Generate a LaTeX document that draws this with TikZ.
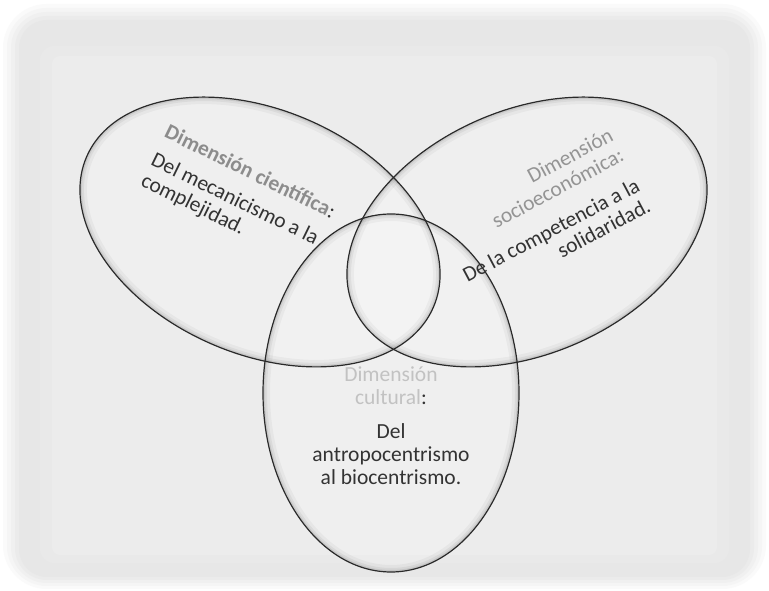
\documentclass[tikz,border=0pt]{standalone}
\usepackage{fontspec}
\setmainfont{Carlito}
\definecolor{txt}{HTML}{333333}
\definecolor{edge}{HTML}{2A2A2A}
\begin{document}
\begin{tikzpicture}[x=1pt,y=1pt,
  ring/.style={draw=edge, line width=1.2pt},
  body/.style={font=\fontsize{21.5}{23}\selectfont, text=txt, inner sep=0pt}]
\useasboundingbox (0,0) rectangle (769,591);
\fill[white] (0,0) rectangle (769,591);
% panel with soft edge
\fill[black!2, rounded corners=44] (3,2) rectangle (766,587);
\fill[black!4, rounded corners=40] (7,5) rectangle (762,583);
\fill[black!6, rounded corners=36] (11,8) rectangle (758,579);
\fill[black!8, rounded corners=32] (15,11) rectangle (754,575);
\fill[black!9.5, rounded corners=28] (19,14) rectangle (750,571);
\fill[black!8.5, rounded corners=14] (40,28) rectangle (729,545);
\fill[black!7.5, rounded corners=8] (52,36) rectangle (717,535);
% ellipse bodies and inner shading
\foreach \cx/\cy/\rx/\ry/\r in {260/359/189/122/-23.5, 527/359/189/122/23.5, 391/198/128/179/0}{
  \fill[white, opacity=0.18] (\cx,\cy) circle [x radius=\rx, y radius=\ry, rotate=\r];
}
\foreach \cx/\cy/\rx/\ry/\r in {260/359/189/122/-23.5, 527/359/189/122/23.5, 391/198/128/179/0}{
  \begin{scope}
    \clip (\cx,\cy) circle [x radius=\rx, y radius=\ry, rotate=\r];
    \draw[black, line width=14pt, opacity=0.035] (\cx,\cy) circle [x radius=\rx, y radius=\ry, rotate=\r];
    \draw[black, line width=8pt, opacity=0.05] (\cx,\cy) circle [x radius=\rx, y radius=\ry, rotate=\r];
    \draw[black, line width=4pt, opacity=0.08] (\cx,\cy) circle [x radius=\rx, y radius=\ry, rotate=\r];
  \end{scope}
}
\draw[ring] (260,359) circle [x radius=189, y radius=122, rotate=-23.5];
\draw[ring] (527,359) circle [x radius=189, y radius=122, rotate=23.5];
\draw[ring] (391,198) circle [x radius=128, y radius=179];
% texts
\node[body, rotate=-26, align=left] (sciT) at (238,394)
  {{\color{black!45}\bfseries Dimensión científica}:\\[8pt]Del mecanicismo a la\\complejidad.};
\node[body, rotate=28, align=right] (socT) at (543,376)
  {{\color{black!42}Dimensión}\\{\color{black!42}socioeconómica:}\\[11pt]De la competencia a la\\solidaridad.};
\node[body, align=center] (culT) at (391,165)
  {{\color{black!24}Dimensión}\\{\color{black!24}cultural}:\\[11pt]Del\\antropocentrismo\\al biocentrismo.};
\end{tikzpicture}
\end{document}
